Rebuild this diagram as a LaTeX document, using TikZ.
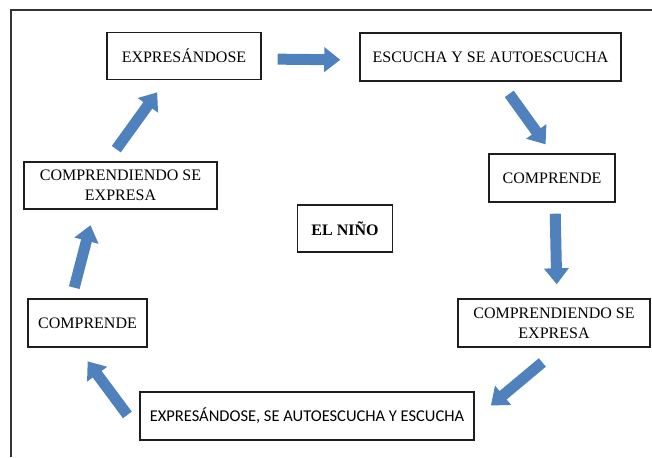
\documentclass[tikz,border=0pt]{standalone}
\usepackage{fontspec}
\setmainfont{Liberation Serif}
\newfontfamily\calibri{Carlito}
\usetikzlibrary{positioning}
\usetikzlibrary{arrows.meta}
\definecolor{azulflecha}{RGB}{79,129,189}
\definecolor{borde}{RGB}{30,30,30}

\begin{document}
\begin{tikzpicture}[x=1pt,y=-1pt,
    caja/.style={draw=borde,line width=1.4pt,inner sep=0pt,align=center,font=\fontsize{16}{20}\selectfont},
    flecha/.style={draw=azulflecha,line width=11pt,-{Triangle[width=24pt,length=16pt]}}]
  \useasboundingbox (0,0) rectangle (652,457);
  % marco
  \draw[line width=1.6pt,black!80] (11,457) -- (11,10) -- (652,10);
  % cajas
  \node[caja,minimum width=154pt,minimum height=47pt] (exp) at (184,56) {EXPRESÁNDOSE};
  \node[caja,minimum width=261pt,minimum height=48pt] (esc) at (490.5,57) {ESCUCHA Y SE AUTOESCUCHA};
  \node[caja,minimum width=126pt,minimum height=48pt] (compR) at (552,178) {COMPRENDE};
  \node[caja,minimum width=192pt,minimum height=48pt] (compexR) at (554,323) {COMPRENDIENDO SE\\EXPRESA};
  \node[caja,minimum width=334pt,minimum height=48pt,font=\calibri\fontsize{16.5}{20}\selectfont] (bot) at (307,416) {EXPRESÁNDOSE, SE AUTOESCUCHA Y ESCUCHA};
  \node[caja,minimum width=119pt,minimum height=48pt] (compL) at (87.5,323) {COMPRENDE};
  \node[caja,minimum width=193pt,minimum height=47pt] (compexL) at (120.5,185.5) {COMPRENDIENDO SE\\EXPRESA};
  \node[caja,minimum width=95pt,minimum height=47pt,font=\bfseries\fontsize{16}{20}\selectfont] (nino) at (345,228.5) {EL NIÑO};
  % flechas
  \draw[flecha,shorten <=16pt,shorten >=19pt] ([yshift=-3pt]exp.east) -- ([yshift=-3pt]esc.west);
  \draw[flecha,shorten <=15pt,shorten >=11pt] ([xshift=10pt]esc.south) -- (compR.north);
  \draw[flecha,shorten <=11pt,shorten >=14pt] ([xshift=3pt]compR.south) -- ([xshift=3pt]compexR.north);
  \draw[flecha,shorten <=23pt,shorten >=21pt] ([xshift=6pt]compexR.south) -- ([yshift=-3pt]bot.east);
  \draw[flecha,shorten <=20pt,shorten >=17pt] ([yshift=-15pt]bot.west) -- ([xshift=-10pt]compL.south);
  \draw[flecha,shorten <=11pt,shorten >=16pt] ([xshift=-16pt]compL.north) -- ([xshift=-26pt]compexL.south);
  \draw[flecha,shorten <=15pt,shorten >=15pt] ([xshift=-13pt]compexL.north) -- ([xshift=-18pt]exp.south);
\end{tikzpicture}
\end{document}
